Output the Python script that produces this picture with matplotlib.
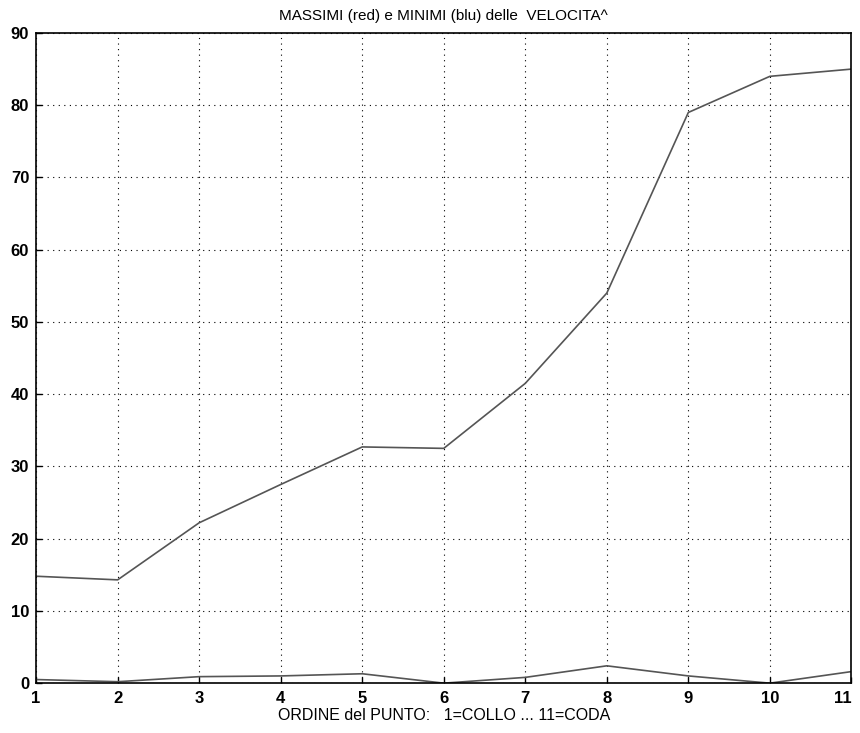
import numpy as np
import matplotlib.pyplot as plt

plt.rcParams['font.family'] = ['Liberation Sans', 'DejaVu Sans']

punti = [1, 2, 3, 4, 5, 6, 7, 8, 9, 10, 11]
massimi = [14.8, 14.3, 22.2, 27.5, 32.7, 32.5, 41.5, 54.0, 79.0, 84.0, 85.0]
minimi = [0.5, 0.2, 0.9, 1.0, 1.3, 0.0, 0.8, 2.4, 1.0, 0.0, 1.6]
yticks = list(range(0, 91, 10))

fig = plt.figure(figsize=(8.6, 7.33), dpi=100)
ax = fig.add_axes([0.042, 0.068, 0.948, 0.887])

# linee grigie come nella scansione
ax.plot(punti, massimi, color='#555555', lw=1.2)
ax.plot(punti, minimi, color='#555555', lw=1.2)

ax.set_xlim(1, 11)
ax.set_ylim(0, 90)
ax.set_xticks(punti)
ax.set_yticks(yticks)
ax.grid(True, color='black', linestyle=(0, (1, 4)), linewidth=0.8)
ax.tick_params(direction='in', length=4, labelsize=12, width=1)
ax.tick_params(axis='x', pad=6)
ax.tick_params(axis='y', pad=5)
for lab in ax.get_xticklabels() + ax.get_yticklabels():
    lab.set_fontweight('bold')
# l'ultima etichetta resta dentro il bordo, come nell'originale
ax.get_xticklabels()[-1].set_horizontalalignment('right')
for s in ax.spines.values():
    s.set_linewidth(1.2)

ax.set_title("MASSIMI (red) e MINIMI (blu) delle  VELOCITA^", fontsize=11, pad=9)
ax.set_xlabel("ORDINE del PUNTO:   1=COLLO ... 11=CODA", fontsize=11.5, labelpad=1)

fig.savefig('out.png', dpi=100, facecolor='white')
